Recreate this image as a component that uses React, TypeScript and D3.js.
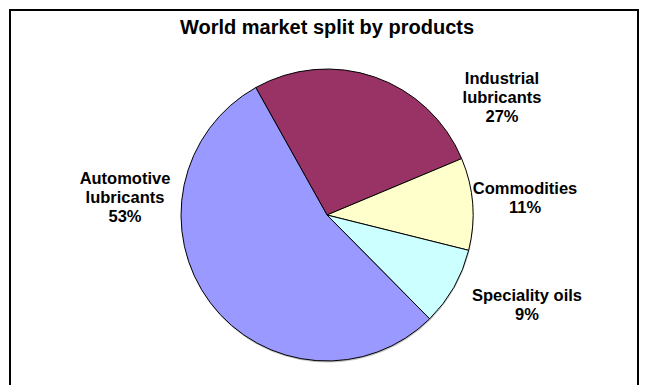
import React, { useMemo } from "react";
import * as d3 from "d3";

// ---- data ----
const categories = ["Industrial lubricants", "Commodities", "Speciality oils", "Automotive lubricants"];
const labelLines = [["Industrial", "lubricants"], ["Commodities"], ["Speciality oils"], ["Automotive", "lubricants"]];
const shares = [26.8, 10.2, 8.7, 54.3];
const percentLabels = ["27%", "11%", "9%", "53%"];
const title = "World market split by products";

// ---- layout / style ----
const W = 649;
const H = 385;
const cx = 327;
const cy = 215;
const radius = 146;
const startDeg = -29.2;
const colors = ["#993366", "#FFFFCC", "#CCFFFF", "#9999FF"];
const labelCenters: [number, number][] = [
  [502, 78],
  [525, 188],
  [527, 295],
  [125, 178],
];
const lineH = 19;
const font = "'Liberation Sans', Arial, sans-serif";

export default function App() {
  const arcs = useMemo(() => {
    const start = (startDeg * Math.PI) / 180;
    const pie = d3
      .pie<number>()
      .sort(null)
      .value((d) => d)
      .startAngle(start)
      .endAngle(start + 2 * Math.PI);
    return pie(shares);
  }, []);
  const arc = d3.arc<d3.PieArcDatum<number>>().innerRadius(0).outerRadius(radius);

  return (
    <svg
      width={W}
      height={H}
      style={{ position: "absolute", left: 0, top: 0, background: "#fff" }}
      fontFamily={font}
    >
      <rect x={0} y={0} width={W} height={H} fill="#fff" />
      <rect x={10} y={10} width={628} height={420} fill="none" stroke="#000" strokeWidth={2} />
      <text x={327} y={34} textAnchor="middle" fontSize={20} fontWeight="bold" fill="#000">
        {title}
      </text>
      <circle cx={cx + 0.5} cy={cy + 1.5} r={radius} fill="#9a9a9a" opacity={0.6} />
      <g transform={`translate(${cx},${cy})`}>
        {arcs.map((a, i) => (
          <path key={categories[i]} d={arc(a) || ""} fill={colors[i]} stroke="#000" strokeWidth={1} strokeLinejoin="round" />
        ))}
      </g>
      {categories.map((c, i) => {
        const [lx, ly] = labelCenters[i];
        const lines = [...labelLines[i], percentLabels[i]];
        return (
          <text key={c} textAnchor="middle" fontSize={16.5} fontWeight="bold" fill="#000">
            {lines.map((t, j) => (
              <tspan key={j} x={lx} y={ly + j * lineH + 6}>
                {t}
              </tspan>
            ))}
          </text>
        );
      })}
    </svg>
  );
}
